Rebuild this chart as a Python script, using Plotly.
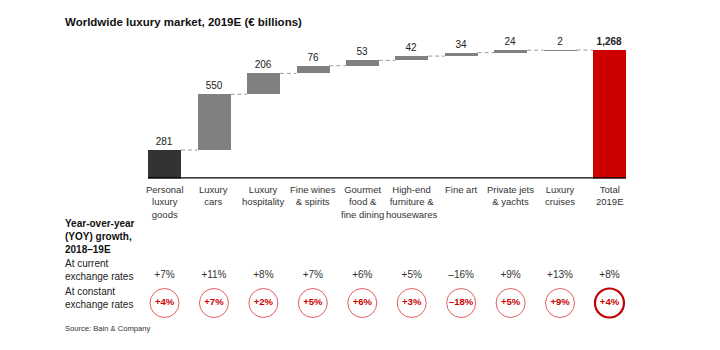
import plotly.graph_objects as go

# ---- data ----
categories = ["Personal<br>luxury<br>goods", "Luxury<br>cars", "Luxury<br>hospitality",
              "Fine wines<br>& spirits", "Gourmet<br>food &<br>fine dining",
              "High-end<br>furniture &<br>housewares", "Fine art",
              "Private jets<br>& yachts", "Luxury<br>cruises", "Total<br>2019E"]
segment_values = [281, 550, 206, 76, 53, 42, 34, 24, 2]
growth_current = ["+7%", "+11%", "+8%", "+7%", "+6%", "+5%", "\u201316%", "+9%", "+13%", "+8%"]
growth_constant = ["+4%", "+7%", "+2%", "+5%", "+6%", "+3%", "\u201318%", "+5%", "+9%", "+4%"]

# ---- derived ----
total = sum(segment_values)
values = segment_values + [total]
bases = []
run = 0
for v in segment_values:
    bases.append(run)
    run += v
bases.append(0)
xs = list(range(len(values)))
bar_colors = ["#333333"] + ["#808080"] * len(segment_values[1:]) + ["#cc0000"]
labels = [f"{v:,}" for v in values]
labels[-1] = f"<b>{labels[-1]}</b>"

FONT = "Liberation Sans, Arial, sans-serif"
BW = 0.667

fig = go.Figure()

fig.add_trace(go.Bar(
    x=xs, y=values, base=bases, width=BW,
    marker=dict(color=bar_colors, line=dict(width=0)),
    text=labels, textposition="outside", constraintext="none",
    textfont=dict(family=FONT, size=10, color="#222222"),
    cliponaxis=False, hoverinfo="skip",
))

# connectors
cx, cy = [], []
for i in range(len(values) - 1):
    level = bases[i] + values[i]
    cx += [i + BW / 2, i + 1 - BW / 2, None]
    cy += [level, level, None]
fig.add_trace(go.Scatter(x=cx, y=cy, mode="lines",
                         line=dict(color="#9a9a9a", width=1, dash="4px,3px"),
                         hoverinfo="skip"))

# bottom table rows (yaxis2 in pixel-like units: y = 350 - pixel)
ROW_CURRENT = 350 - 275
ROW_CONSTANT = 350 - 303
fig.add_trace(go.Scatter(
    x=xs, y=[ROW_CURRENT] * len(xs), mode="text", text=growth_current,
    textfont=dict(family=FONT, size=10, color="#333333"),
    xaxis="x", yaxis="y2", hoverinfo="skip", cliponaxis=False))
fig.add_trace(go.Scatter(
    x=xs, y=[ROW_CONSTANT] * len(xs), mode="markers+text",
    text=[f"<b>{t}</b>" for t in growth_constant], textposition="middle center",
    textfont=dict(family=FONT, size=9.5, color="#cc0000"),
    marker=dict(symbol="circle-open", size=29,
                color=["#e06060"] * (len(xs) - 1) + ["#c00000"],
                line=dict(width=[1] * (len(xs) - 1) + [2.2])),
    xaxis="x", yaxis="y2", hoverinfo="skip", cliponaxis=False))

# category labels
for i, c in enumerate(categories):
    fig.add_annotation(x=i, y=1 - 182 / 350, xref="x", yref="paper",
                       text=c, showarrow=False, xanchor="center", yanchor="top",
                       font=dict(family=FONT, size=9.5, color="#333333"))

# baseline
fig.add_shape(type="line", xref="x", yref="y", x0=-BW / 2, x1=len(values) - 1 + BW / 2,
              y0=0, y1=0, line=dict(color="#000000", width=2.5))

# texts
fig.add_annotation(x=63 / 720, y=1 - 22 / 350, xref="paper", yref="paper",
                   text="<b>Worldwide luxury market, 2019E (\u20ac billions)</b>",
                   showarrow=False, xanchor="left", yanchor="middle",
                   font=dict(family=FONT, size=11.5, color="#111111"))
fig.add_annotation(x=63 / 720, y=1 - 216 / 350, xref="paper", yref="paper",
                   text="<b>Year-over-year<br>(YOY) growth,<br>2018\u201319E</b>",
                   showarrow=False, xanchor="left", yanchor="top", align="left",
                   font=dict(family=FONT, size=10, color="#111111"))
fig.add_annotation(x=63 / 720, y=1 - 256 / 350, xref="paper", yref="paper",
                   text="At current<br>exchange rates",
                   showarrow=False, xanchor="left", yanchor="top", align="left",
                   font=dict(family=FONT, size=10, color="#222222"))
fig.add_annotation(x=63 / 720, y=1 - 284 / 350, xref="paper", yref="paper",
                   text="At constant<br>exchange rates",
                   showarrow=False, xanchor="left", yanchor="top", align="left",
                   font=dict(family=FONT, size=10, color="#222222"))
fig.add_annotation(x=63 / 720, y=1 - 328 / 350, xref="paper", yref="paper",
                   text="Source: Bain & Company",
                   showarrow=False, xanchor="left", yanchor="middle", align="left",
                   font=dict(family=FONT, size=7.6, color="#333333"))

fig.update_layout(
    width=720, height=350,
    margin=dict(l=0, r=0, t=0, b=0),
    paper_bgcolor="white", plot_bgcolor="rgba(0,0,0,0)",
    showlegend=False, bargap=0,
    xaxis=dict(domain=[139.8 / 720, 634.2 / 720], range=[-0.5, 9.5],
               visible=False, fixedrange=True),
    yaxis=dict(domain=[0.49, 1 - 20 / 350], range=[0, 1564], visible=False),
    yaxis2=dict(domain=[0, 0.49], range=[0, 171.5], visible=False, anchor="x"),
)

fig.write_html("out.html")
